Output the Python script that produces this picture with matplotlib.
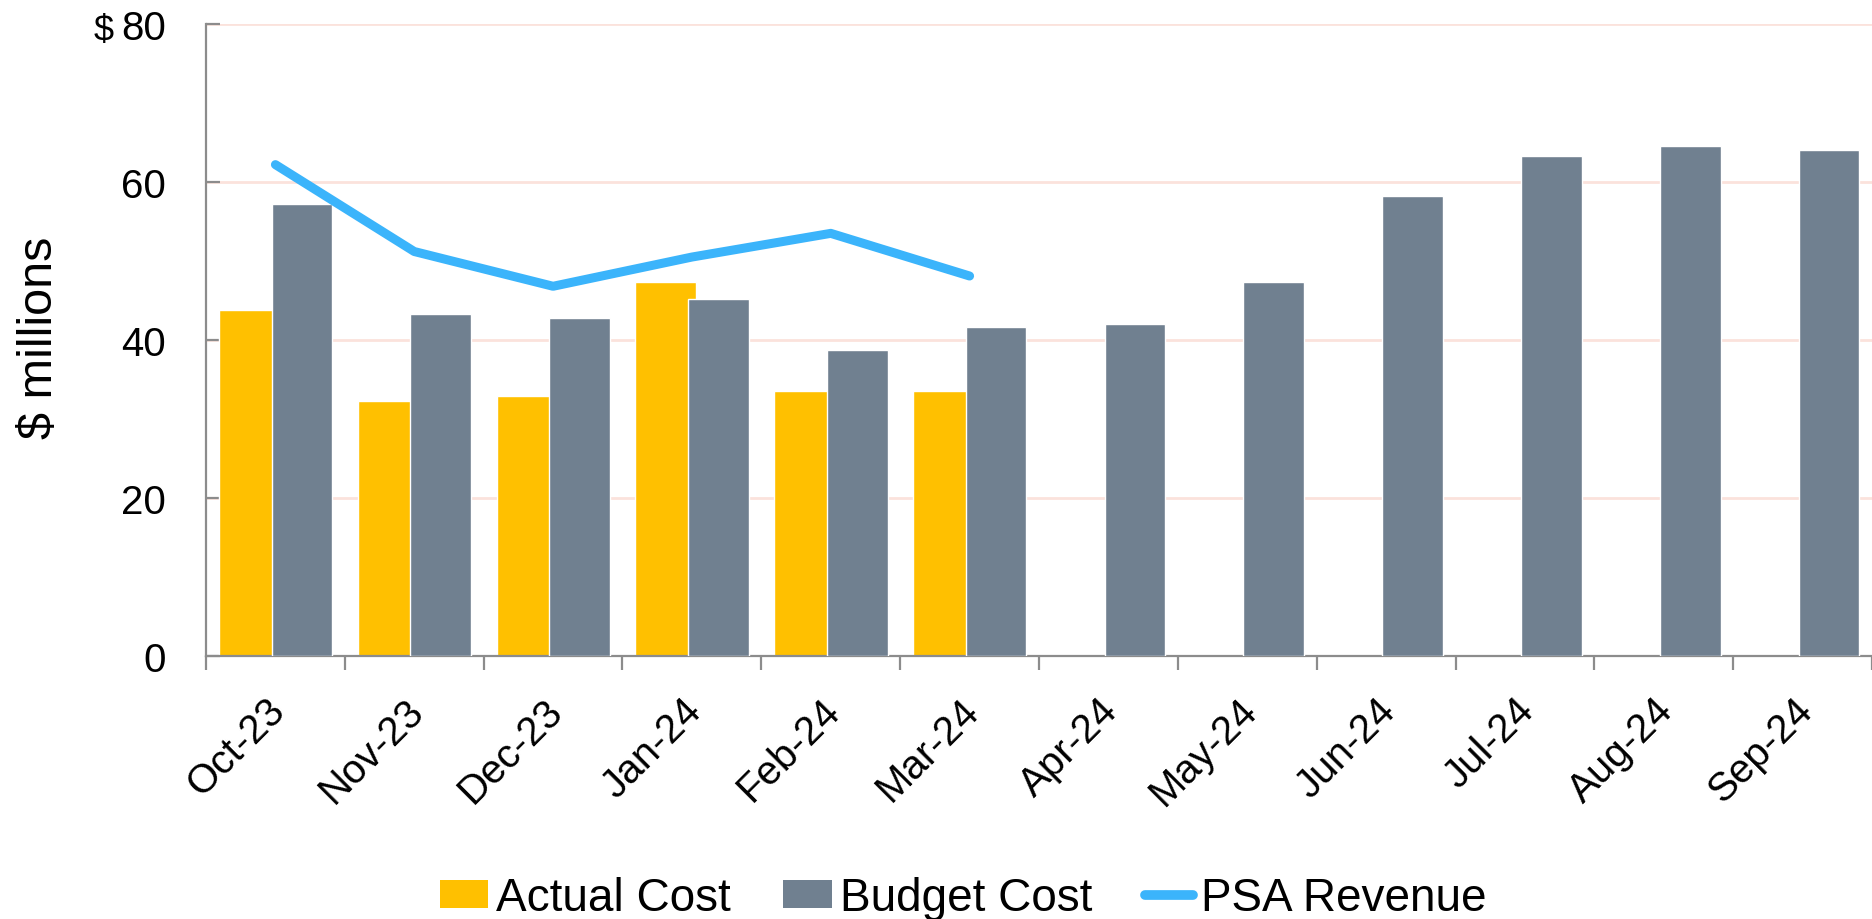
import numpy as np
import matplotlib
matplotlib.use("Agg")
import matplotlib.pyplot as plt
import matplotlib.transforms as mtransforms
from matplotlib.lines import Line2D
from matplotlib.patches import Patch

# data ($ millions)
months = ["Oct-23", "Nov-23", "Dec-23", "Jan-24", "Feb-24", "Mar-24",
          "Apr-24", "May-24", "Jun-24", "Jul-24", "Aug-24", "Sep-24"]
actual_cost = [43.8, 32.3, 32.9, 47.3, 33.5, 33.5]
budget_cost = [57.2, 43.3, 42.8, 45.2, 38.7, 41.6, 42.0, 47.4, 58.2, 63.3, 64.6, 64.1]
psa_revenue = [62.2, 51.2, 46.8, 50.5, 53.5, 48.1]

YELLOW = "#FFC000"
GRAY = "#708090"
BLUE = "#3BB4FB"
GRID = "#FBE2DC"
AXIS = "#8C8C8C"

plt.rcParams["font.family"] = ["Liberation Sans", "DejaVu Sans"]

fig = plt.figure(figsize=(18.72, 9.2), dpi=100)
ax = fig.add_axes([206 / 1872, 1 - 657 / 920, 1 - 206 / 1872, (657 - 25) / 920])

x = np.arange(len(months))
bar_w = 0.437

ax.bar(x[:len(actual_cost)] - 0.189, actual_cost, width=bar_w, color=YELLOW,
       edgecolor="white", linewidth=1, zorder=2)
ax.bar(x + 0.191, budget_cost, width=bar_w, color=GRAY,
       edgecolor="white", linewidth=1, zorder=3)
ax.plot(x[:len(psa_revenue)], psa_revenue, color=BLUE, linewidth=6.5,
        solid_capstyle="round", solid_joinstyle="round", zorder=4)

ax.set_ylim(0, 80)
ax.set_xlim(-0.5, 11.425)
ax.set_yticks([0, 20, 40, 60, 80])
ax.set_yticklabels(["0", "20", "40", "60", "80"])
ax.yaxis.grid(True, color=GRID, linewidth=2, zorder=0)
ax.set_axisbelow(True)

for side in ["top", "right"]:
    ax.spines[side].set_visible(False)
for side in ["left", "bottom"]:
    ax.spines[side].set_color(AXIS)
    ax.spines[side].set_linewidth(1.6)

ax.tick_params(axis="y", direction="in", length=10, width=1.6, color=AXIS,
               labelsize=29, pad=29)

# category boundaries get the tick marks, labels sit at the centres
ax.set_xticks(x)
ax.set_xticks(np.arange(-0.5, 12, 1.0), minor=True)
ax.tick_params(axis="x", which="major", length=0, pad=25, labelsize=29)
ax.tick_params(axis="x", which="minor", direction="out", length=10,
               width=1.6, color=AXIS)
ax.set_xticklabels(months, rotation=45, ha="right", va="top",
                   rotation_mode="anchor")
shift = mtransforms.ScaledTranslation(-10 / 100, 0, fig.dpi_scale_trans)
for lbl in ax.get_xticklabels():
    lbl.set_transform(lbl.get_transform() + shift)

fig.text(40 / 1872, 1 - 338 / 920, "$ millions", rotation=90, fontsize=35,
         ha="center", va="center")
fig.text(104 / 1872, 1 - 41 / 920, "$", fontsize=26, ha="center",
         va="baseline")

handles = [Patch(facecolor=YELLOW, edgecolor="none"),
           Patch(facecolor=GRAY, edgecolor="none"),
           Line2D([0], [0], color=BLUE, linewidth=7, solid_capstyle="round")]
fig.legend(handles, ["Actual Cost", "Budget Cost", "PSA Revenue"],
           loc="center", bbox_to_anchor=(0.5145, 1 - 899 / 920), ncol=3,
           frameon=False, fontsize=33, handlelength=1.05, handleheight=0.55,
           handletextpad=0.18, columnspacing=1.15, borderaxespad=0)

fig.savefig("out.png", dpi=100)
